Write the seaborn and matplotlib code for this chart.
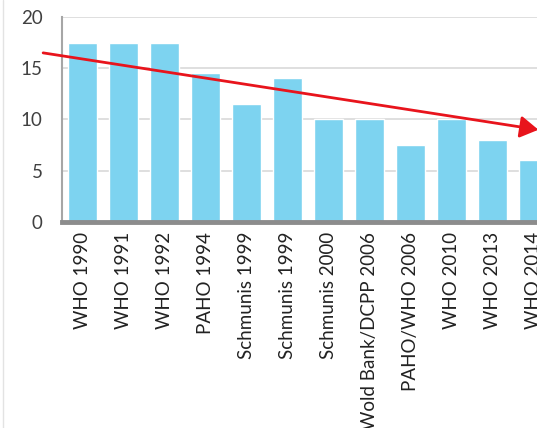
import matplotlib
matplotlib.use("Agg")
import matplotlib.pyplot as plt
from matplotlib.lines import Line2D
import seaborn as sns
import pandas as pd

sources = ["WHO 1990", "WHO 1991", "WHO 1992", "PAHO 1994", "Schmunis 1999",
           "Schmunis 1999", "Schmunis 2000", "Wold Bank/DCPP 2006",
           "PAHO/WHO 2006", "WHO 2010", "WHO 2013", "WHO 2014"]
values = [17.5, 17.5, 17.5, 14.5, 11.5, 14, 10, 10, 7.5, 10, 8, 6]

# trend arrow, start and end in data units
trend_start = (-0.96, 16.5)
trend_end = (11.12, 9.0)

sns.set_style("white")
plt.rcParams['font.family'] = ['Lato', 'DejaVu Sans']

df = pd.DataFrame({"idx": range(len(sources)), "value": values})

W, H = 537, 428
fig = plt.figure(figsize=(W / 100, H / 100), dpi=100)
ax = fig.add_axes([62 / W, 1 - 222 / H, (554 - 62) / W, (222 - 17) / H])

sns.barplot(data=df, x="idx", y="value", color="#7DD3F0", saturation=1,
            width=0.7, ax=ax)

ax.set_xlim(-0.5, 11.5)
ax.set_ylim(0, 20)
ax.set_yticks([0, 5, 10, 15, 20])
ax.yaxis.grid(True, color="#D9D9D9", lw=1.2)
ax.set_axisbelow(True)
ax.set_xticks(range(len(sources)))
ax.set_xticklabels(sources, rotation=90, fontsize=13.5, color="#222222")
ax.tick_params(axis="y", labelsize=13.5, labelcolor="#404040", length=0, pad=14)
ax.tick_params(axis="x", length=0, pad=7)
ax.set_xlabel("")
ax.set_ylabel("")

for s in ["top", "right"]:
    ax.spines[s].set_visible(False)
ax.spines["left"].set_color("#A6A6A6")
ax.spines["left"].set_linewidth(1.5)
ax.spines["bottom"].set_color("#8C8C8C")
ax.spines["bottom"].set_linewidth(3.5)

ax.annotate("", xy=trend_end, xytext=trend_start,
            arrowprops=dict(arrowstyle="-|>,head_length=0.5,head_width=0.3",
                            color="#E8141C", lw=2,
                            mutation_scale=22, shrinkA=0, shrinkB=0),
            annotation_clip=False)

# faint chart frame on the left
fig.add_artist(Line2D([3 / W, 3 / W], [0, 1], transform=fig.transFigure,
                      color="#E3E3E3", lw=1))

fig.savefig("out.png", dpi=100)
